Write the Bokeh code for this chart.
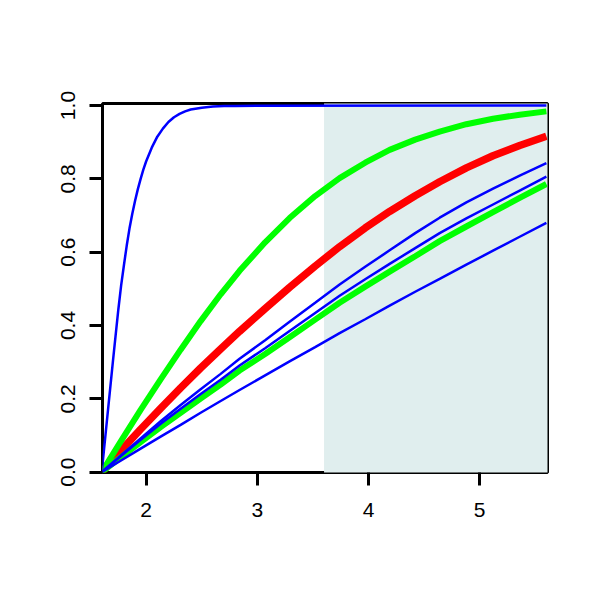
from bokeh.plotting import figure
from bokeh.models import Range1d, FixedTicker, NumeralTickFormatter
from bokeh.embed import file_html
from bokeh.resources import INLINE

# ---- data ----
x_ticks = [2, 3, 4, 5]
y_ticks = [0.0, 0.2, 0.4, 0.6, 0.8, 1.0]

shade_left = 3.6
shade_right = 5.7

steep_x = [1.6, 1.625, 1.65, 1.675, 1.70, 1.725, 1.75, 1.775, 1.80, 1.825, 1.85, 1.875,
           1.90, 1.925, 1.95, 1.975, 2.0, 2.05, 2.1, 2.15, 2.2, 2.25, 2.3, 2.35, 2.4,
           2.5, 2.6, 2.7, 2.8, 5.6]
steep_y = [0, 0.075, 0.15, 0.225, 0.30, 0.373, 0.445, 0.51, 0.565, 0.618, 0.665, 0.705,
           0.74, 0.772, 0.80, 0.826, 0.848, 0.885, 0.915, 0.937, 0.955, 0.968, 0.977, 0.984, 0.989,
           0.994, 0.997, 0.9985, 0.999, 1.0]

x_read = [1.6, 1.77, 1.95, 2.13, 2.31, 2.49, 2.67, 2.84, 3.07, 3.29,
          3.52, 3.74, 3.97, 4.19, 4.42, 4.64, 4.88, 5.12, 5.36, 5.6]
green_upper = [0, 0.083, 0.170, 0.253, 0.334, 0.412, 0.485, 0.549, 0.627, 0.693,
               0.753, 0.802, 0.844, 0.879, 0.907, 0.929, 0.949, 0.964, 0.975, 0.984]
red_mid = [0, 0.058, 0.117, 0.174, 0.230, 0.284, 0.336, 0.384, 0.446, 0.504,
           0.562, 0.615, 0.666, 0.711, 0.754, 0.792, 0.830, 0.863, 0.891, 0.916]
blue_b = [0, 0.045, 0.092, 0.139, 0.183, 0.226, 0.268, 0.309, 0.36, 0.41,
          0.462, 0.512, 0.56, 0.605, 0.652, 0.694, 0.736, 0.773, 0.809, 0.843]
blue_c = [0, 0.043, 0.088, 0.132, 0.173, 0.213, 0.252, 0.291, 0.338, 0.385,
          0.434, 0.481, 0.526, 0.568, 0.611, 0.652, 0.692, 0.73, 0.768, 0.806]
green_lower = [0, 0.04, 0.082, 0.123, 0.162, 0.201, 0.239, 0.277, 0.322, 0.368,
               0.416, 0.462, 0.506, 0.547, 0.589, 0.63, 0.67, 0.709, 0.748, 0.786]
blue_d = [0, 0.031, 0.064, 0.097, 0.129, 0.162, 0.194, 0.224, 0.264, 0.302,
          0.341, 0.379, 0.417, 0.454, 0.492, 0.527, 0.566, 0.604, 0.642, 0.680]

p = figure(output_backend="svg", toolbar_location=None,
           frame_width=445, frame_height=369,
           min_border_left=102, min_border_right=36,
           min_border_top=103, min_border_bottom=100,
           x_range=Range1d(1.607, 5.61), y_range=Range1d(-0.001, 1.0055))

p.background_fill_color = "white"
p.border_fill_color = "white"
p.outline_line_color = "black"
p.outline_line_width = 3
p.xgrid.visible = False
p.ygrid.visible = False

# shaded region
p.quad(left=shade_left, right=shade_right, bottom=-0.1, top=1.1,
       fill_color="#E0EEEE", line_color=None)

# curves
p.line(x_read, red_mid, line_color="#FF0000", line_width=7.5)
p.line(x_read, green_upper, line_color="#00FF00", line_width=6)
p.line(x_read, green_lower, line_color="#00FF00", line_width=6)
p.line(steep_x, steep_y, line_color="#0000FF", line_width=2.5)
p.line(x_read, blue_b, line_color="#0000FF", line_width=2.5)
p.line(x_read, blue_c, line_color="#0000FF", line_width=2.5)
p.line(x_read, blue_d, line_color="#0000FF", line_width=2.5)

for ax in (p.xaxis[0], p.yaxis[0]):
    ax.axis_line_color = None
    ax.major_tick_line_color = "black"
    ax.major_tick_line_width = 3
    ax.major_tick_out = 13
    ax.major_tick_in = 0
    ax.minor_tick_line_color = None
    ax.major_label_text_font = "Liberation Sans"
    ax.major_label_text_font_size = "21px"
    ax.major_label_text_color = "black"

p.xaxis[0].ticker = FixedTicker(ticks=x_ticks)
p.yaxis[0].ticker = FixedTicker(ticks=y_ticks)
p.yaxis[0].formatter = NumeralTickFormatter(format="0.0")
p.yaxis[0].major_label_orientation = "vertical"
p.xaxis[0].major_label_standoff = 17
p.yaxis[0].major_label_standoff = 14

open("out.html", "w").write(file_html(p, INLINE))
